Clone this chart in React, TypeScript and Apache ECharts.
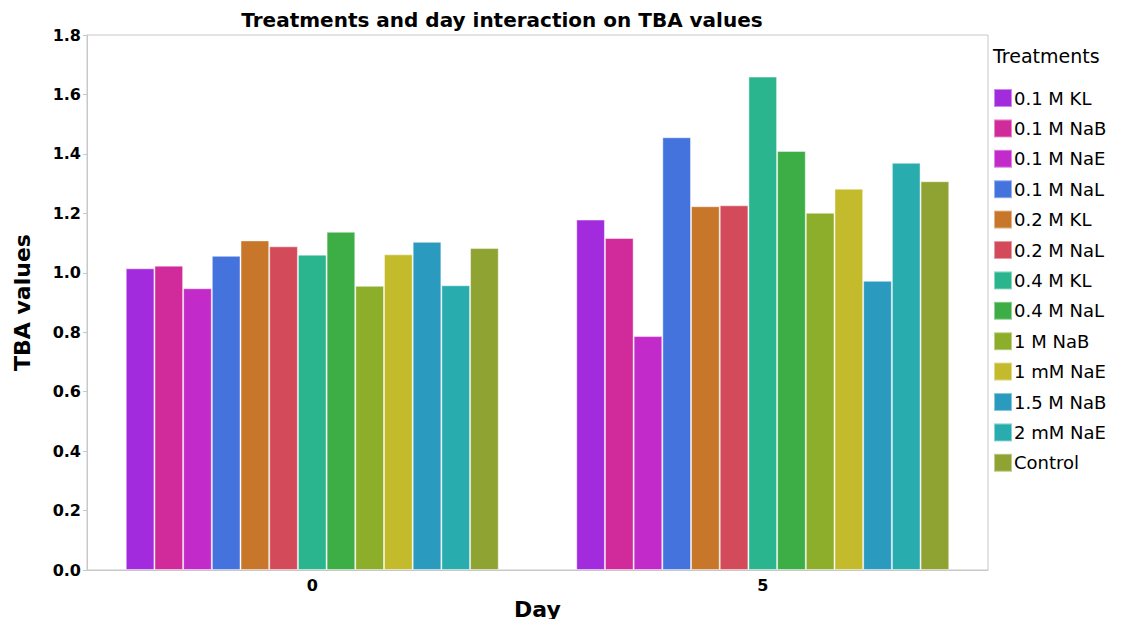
import React, { useEffect, useRef } from "react";
import * as echarts from "echarts";

const days = ["0", "5"];
const treatments = [
  "0.1 M KL",
  "0.1 M NaB",
  "0.1 M NaE",
  "0.1 M NaL",
  "0.2 M KL",
  "0.2 M NaL",
  "0.4 M KL",
  "0.4 M NaL",
  "1 M NaB",
  "1 mM NaE",
  "1.5 M NaB",
  "2 mM NaE",
  "Control",
];
const colors = [
  "#A22BDE",
  "#D02A9B",
  "#C22BC9",
  "#4573DE",
  "#C8772A",
  "#D34B5A",
  "#2BB58F",
  "#3DAD46",
  "#8DAE2A",
  "#C4BB2C",
  "#2A9ABE",
  "#29ACAE",
  "#8EA332",
];
// values per treatment at day 0 and day 5
const day0Values = [1.015, 1.024, 0.948, 1.057, 1.109, 1.089, 1.061, 1.138, 0.956, 1.062, 1.104, 0.958, 1.083];
const day5Values = [1.179, 1.117, 0.787, 1.456, 1.224, 1.227, 1.66, 1.41, 1.202, 1.283, 0.973, 1.37, 1.308];
const yTicks = ["0.0", "0.2", "0.4", "0.6", "0.8", "1.0", "1.2", "1.4", "1.6", "1.8"];

export default function App() {
  const ref = useRef<HTMLDivElement>(null);
  useEffect(() => {
    if (!ref.current) return;
    const chart = echarts.init(ref.current, undefined, { renderer: "svg" });
    const font = "'DejaVu Sans', sans-serif";
    chart.setOption({
      animation: false,
      title: {
        text: "Treatments and day interaction on TBA values",
        left: 497,
        top: 5,
        textAlign: "center",
        textStyle: { fontFamily: font, fontWeight: "bold", fontSize: 20, color: "#000" },
      },
      grid: {
        left: 87,
        right: 136,
        top: 35,
        bottom: 57,
        show: true,
        borderColor: "#c8c8c8",
        borderWidth: 1,
        backgroundColor: "transparent",
        outerBoundsMode: "none",
        containLabel: false,
      },
      legend: {
        orient: "vertical",
        left: 993,
        top: 88,
        padding: 0,
        itemWidth: 18,
        itemHeight: 18,
        itemGap: 10.4,
        icon: "rect",
        data: treatments,
        textStyle: { fontFamily: font, fontSize: 18, lineHeight: 18, color: "#000", padding: [0, 0, 0, -3] },
      },
      graphic: [
        {
          type: "text",
          left: 993,
          top: 46,
          style: { text: "Treatments", fontFamily: font, fontSize: 19, fill: "#000" },
        },
      ],
      xAxis: {
        type: "category",
        data: days,
        name: "Day",
        nameLocation: "middle",
        nameGap: 28,
        nameTextStyle: { fontFamily: font, fontWeight: "bold", fontSize: 22, color: "#000" },
        axisLine: { show: true, lineStyle: { color: "#c8c8c8" } },
        axisTick: { show: false },
        axisLabel: { fontFamily: font, fontWeight: "bold", fontSize: 16, color: "#000", margin: 7 },
      },
      yAxis: {
        type: "value",
        min: 0,
        max: 1.8,
        interval: 0.2,
        name: "TBA values",
        nameLocation: "middle",
        nameGap: 54,
        nameTextStyle: { fontFamily: font, fontWeight: "bold", fontSize: 22, color: "#000" },
        axisLine: { show: true, lineStyle: { color: "#c8c8c8" } },
        axisTick: { show: true, length: 4, lineStyle: { color: "#c8c8c8" } },
        splitLine: { show: false },
        axisLabel: {
          fontFamily: font,
          fontWeight: "bold",
          fontSize: 16,
          color: "#000",
          margin: 6,
          formatter: (v: number) => yTicks[Math.round(v / 0.2)] ?? v.toFixed(1),
        },
      },
      series: treatments.map((name, i) => ({
        name,
        type: "bar",
        data: [day0Values[i], day5Values[i]],
        barGap: "0%",
        barCategoryGap: "17.2%",
        itemStyle: {
          color: colors[i],
          borderColor: "rgba(255,255,255,0.45)",
          borderWidth: 1,
        },
      })),
    });
    return () => chart.dispose();
  }, []);
  return <div ref={ref} style={{ width: 1124, height: 627, margin: -8 }} />;
}
